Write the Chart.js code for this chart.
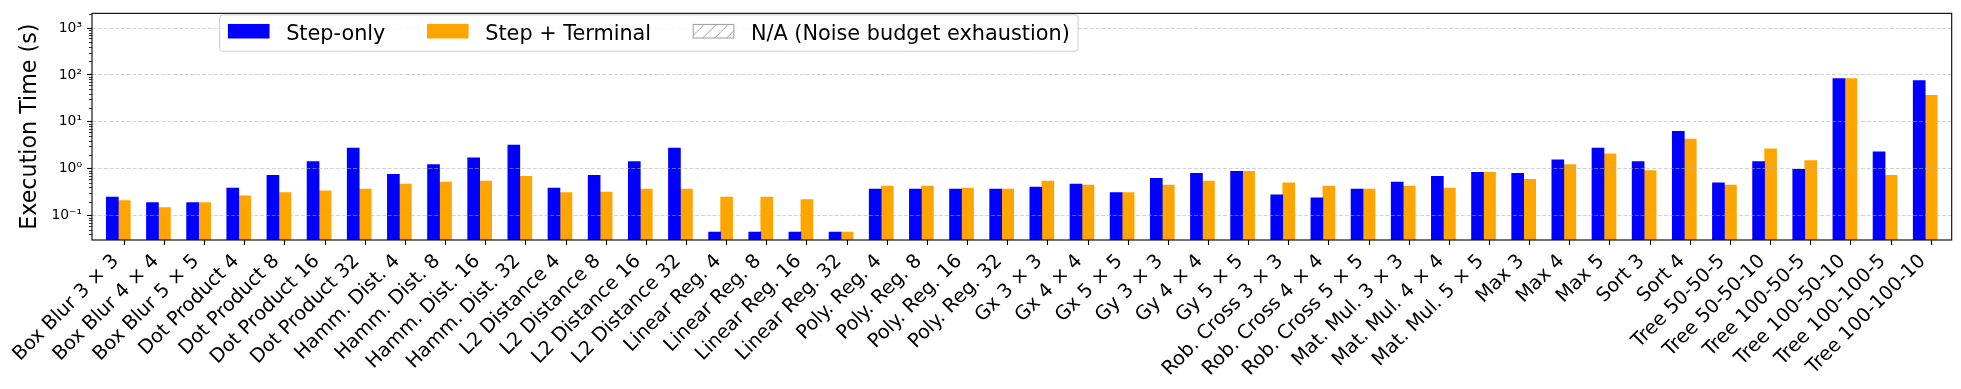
<!DOCTYPE html>
<html>
<head>
<meta charset="utf-8">
<title>Execution time per benchmark</title>
<script src="https://cdn.jsdelivr.net/npm/chart.js@4.4.1/dist/chart.umd.min.js"></script>
<style>
  html, body { margin: 0; padding: 0; background: #ffffff; }
  canvas { display: block; }
</style>
</head>
<body>
<canvas id="timeChart" width="1961" height="389"></canvas>
<script>
// Data
const categories = [
  'Box Blur 3 × 3', 'Box Blur 4 × 4', 'Box Blur 5 × 5',
  'Dot Product 4', 'Dot Product 8', 'Dot Product 16', 'Dot Product 32',
  'Hamm. Dist. 4', 'Hamm. Dist. 8', 'Hamm. Dist. 16', 'Hamm. Dist. 32',
  'L2 Distance 4', 'L2 Distance 8', 'L2 Distance 16', 'L2 Distance 32',
  'Linear Reg. 4', 'Linear Reg. 8', 'Linear Reg. 16', 'Linear Reg. 32',
  'Poly. Reg. 4', 'Poly. Reg. 8', 'Poly. Reg. 16', 'Poly. Reg. 32',
  'Gx 3 × 3', 'Gx 4 × 4', 'Gx 5 × 5', 'Gy 3 × 3', 'Gy 4 × 4', 'Gy 5 × 5',
  'Rob. Cross 3 × 3', 'Rob. Cross 4 × 4', 'Rob. Cross 5 × 5',
  'Mat. Mul. 3 × 3', 'Mat. Mul. 4 × 4', 'Mat. Mul. 5 × 5',
  'Max 3', 'Max 4', 'Max 5', 'Sort 3', 'Sort 4',
  'Tree 50-50-5', 'Tree 50-50-10', 'Tree 100-50-5', 'Tree 100-50-10',
  'Tree 100-100-5', 'Tree 100-100-10'
];

const stepOnly = [
  0.25, 0.19, 0.19,
  0.39, 0.73, 1.42, 2.78,
  0.76, 1.23, 1.72, 3.21,
  0.39, 0.73, 1.42, 2.78,
  0.045, 0.045, 0.045, 0.045,
  0.37, 0.37, 0.37, 0.37,
  0.41, 0.47, 0.31, 0.63, 0.80, 0.88,
  0.28, 0.24, 0.37,
  0.52, 0.69, 0.84,
  0.80, 1.56, 2.78, 1.42, 6.29,
  0.50, 1.42, 0.97, 84, 2.30, 76
];

const stepTerminal = [
  0.21, 0.15, 0.19,
  0.265, 0.31, 0.34, 0.37,
  0.47, 0.52, 0.545, 0.69,
  0.31, 0.32, 0.37, 0.37,
  0.25, 0.25, 0.22, 0.045,
  0.43, 0.43, 0.39, 0.37,
  0.545, 0.45, 0.31, 0.45, 0.545, 0.88,
  0.50, 0.43, 0.37,
  0.43, 0.39, 0.84,
  0.60, 1.23, 2.09, 0.92, 4.28,
  0.45, 2.65, 1.49, 84, 0.73, 37
];

const seriesNames = ['Step-only', 'Step + Terminal'];
const naLabel = 'N/A (Noise budget exhaustion)';
const yTickValues = [0.1, 1, 10, 100, 1000];
const yTickLabels = ['10⁻¹', '10⁰', '10¹', '10²', '10³'];

const FONT = 'DejaVu Sans';

// Spines + minor log ticks on the left axis
const frameAndMinorTicks = {
  id: 'frameAndMinorTicks',
  afterDraw(chart) {
    const { ctx, chartArea: a } = chart;
    const yScale = chart.scales.y;
    ctx.save();
    ctx.strokeStyle = '#000000';
    ctx.lineWidth = 0.8;
    for (let k = -2; k <= 3; k++) {
      for (let m = 2; m <= 9; m++) {
        const v = m * Math.pow(10, k);
        if (v <= yScale.min || v >= yScale.max) continue;
        const py = Math.round(yScale.getPixelForValue(v)) + 0.5;
        ctx.beginPath();
        ctx.moveTo(a.left - 3, py);
        ctx.lineTo(a.left, py);
        ctx.stroke();
      }
    }
    ctx.lineWidth = 1.1;
    ctx.strokeRect(a.left, a.top, a.right - a.left, a.bottom - a.top);
    ctx.restore();
  }
};

// Legend drawn inside the plot, matplotlib style
const insideLegend = {
  id: 'insideLegend',
  afterDraw(chart) {
    const { ctx, chartArea: a } = chart;
    const fs = 20.8;
    ctx.save();
    ctx.font = fs + 'px "' + FONT + '"';
    const items = chart.data.datasets.map(ds => ({ label: ds.label, color: ds.backgroundColor }));
    items.push({ label: naLabel, hatch: true });

    const pad = 0.4 * fs, hLen = 2 * fs, hH = 0.7 * fs, tPad = 0.8 * fs, colSp = 2 * fs;
    let w = pad * 2;
    items.forEach((it, i) => {
      it.tw = ctx.measureText(it.label).width;
      w += hLen + tPad + it.tw + (i ? colSp : 0);
    });
    const left = a.left + 127.6;
    const top = a.top + 1.6;
    const h = 36.3;

    ctx.beginPath();
    ctx.roundRect(left, top, w, h, 3);
    ctx.fillStyle = 'rgba(255,255,255,0.8)';
    ctx.fill();
    ctx.strokeStyle = '#cccccc';
    ctx.lineWidth = 1;
    ctx.stroke();

    let x = left + pad;
    const boxTop = top + 9;
    items.forEach(it => {
      if (it.hatch) {
        ctx.fillStyle = '#ffffff';
        ctx.fillRect(x, boxTop, hLen, hH);
        ctx.save();
        ctx.beginPath();
        ctx.rect(x, boxTop, hLen, hH);
        ctx.clip();
        ctx.strokeStyle = '#a0a0a0';
        ctx.lineWidth = 1;
        for (let s = x - hH; s < x + hLen + hH; s += 12) {
          ctx.beginPath();
          ctx.moveTo(s, boxTop + hH);
          ctx.lineTo(s + hH, boxTop);
          ctx.stroke();
        }
        ctx.restore();
        ctx.strokeStyle = '#a0a0a0';
        ctx.lineWidth = 1;
        ctx.strokeRect(x + 0.5, boxTop + 0.5, hLen - 1, hH - 1);
      } else {
        ctx.fillStyle = it.color;
        ctx.fillRect(x, boxTop, hLen, hH);
      }
      x += hLen + tPad;
      ctx.fillStyle = '#000000';
      ctx.textBaseline = 'alphabetic';
      ctx.textAlign = 'left';
      ctx.fillText(it.label, x, top + 24.7);
      x += it.tw + colSp;
    });
    ctx.restore();
  }
};

const chartCanvas = document.getElementById('timeChart');

new Chart(chartCanvas, {
  type: 'bar',
  data: {
    datasets: [
      {
        label: seriesNames[0],
        data: stepOnly.map((v, i) => ({ x: i, y: v })),
        backgroundColor: '#0000ff',
        borderWidth: 0,
        barThickness: 12
      },
      {
        label: seriesNames[1],
        data: stepTerminal.map((v, i) => ({ x: i, y: v })),
        backgroundColor: '#ffa500',
        borderWidth: 0,
        barThickness: 12
      }
    ]
  },
  options: {
    responsive: false,
    animation: false,
    devicePixelRatio: 1,
    layout: { padding: { top: 9.4, right: 9.3, left: 0, bottom: 0 } },
    plugins: {
      legend: { display: false },
      tooltip: { enabled: false }
    },
    scales: {
      x: {
        type: 'linear',
        min: -0.655,
        max: 45.66,
        offset: false,
        grid: {
          display: true,
          offset: false,
          drawOnChartArea: false,
          drawTicks: true,
          tickLength: 5,
          tickWidth: 1.1,
          tickColor: '#000000'
        },
        border: { display: false },
        afterBuildTicks: (scale) => {
          // tick sits under the second bar of each pair
          scale.ticks = categories.map((c, i) => ({ value: i + 0.15 }));
        },
        afterFit: (scale) => { scale.height = 149; },
        ticks: {
          autoSkip: false,
          minRotation: 45,
          maxRotation: 45,
          padding: 5,
          labelOffset: -8.5,
          color: '#000000',
          font: { family: FONT, size: 19.4 },
          callback: (value, index) => categories[index]
        }
      },
      y: {
        type: 'logarithmic',
        min: 0.0304,
        max: 2055,
        afterBuildTicks: (scale) => {
          scale.ticks = yTickValues.map(v => ({ value: v, major: true }));
        },
        afterFit: (scale) => { scale.width = 92; },
        grid: {
          z: 1,
          color: 'rgba(176,176,176,0.7)',
          lineWidth: 0.8,
          tickColor: '#000000',
          tickLength: 5,
          tickWidth: 1.1
        },
        border: { display: false, dash: [4, 1.8] },
        ticks: {
          padding: 5,
          color: '#000000',
          font: { family: FONT, size: 13.9 },
          callback: (value, index) => yTickLabels[index]
        },
        title: {
          display: true,
          text: 'Execution Time (s)',
          color: '#000000',
          font: { family: FONT, size: 22.2 },
          padding: { top: 17, bottom: 0 }
        }
      }
    }
  },
  plugins: [frameAndMinorTicks, insideLegend]
});
</script>
</body>
</html>
